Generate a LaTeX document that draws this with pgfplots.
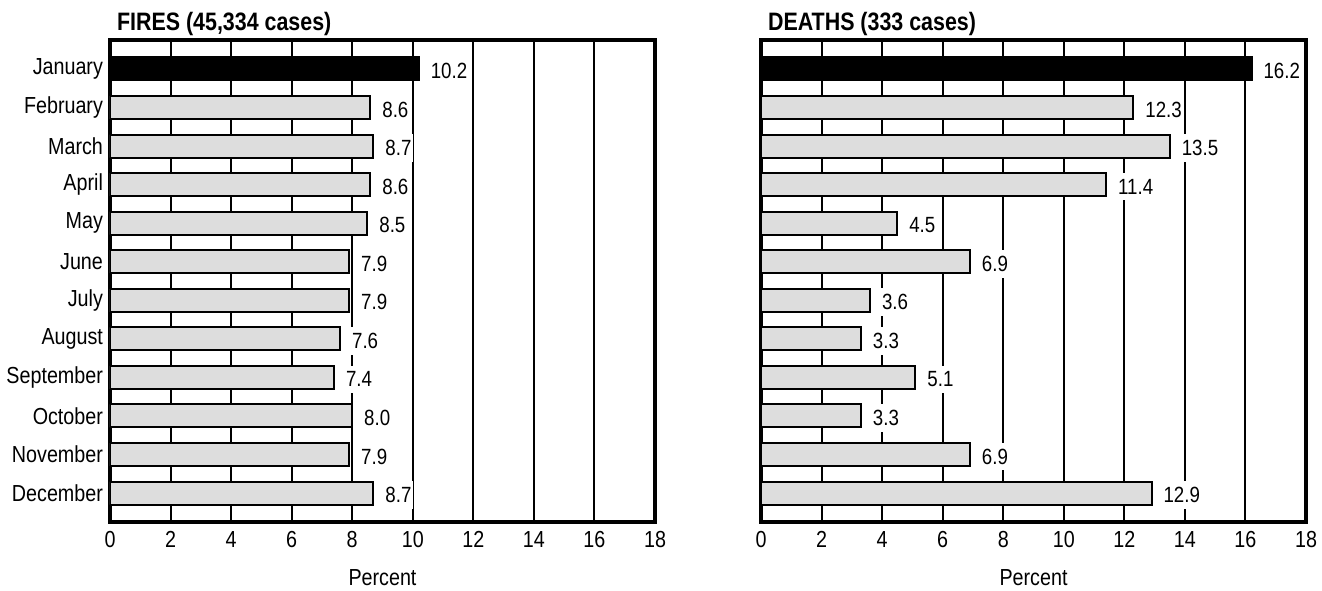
\documentclass[border=0pt]{standalone}
\usepackage{fontspec}
\setmainfont{Liberation Sans}[FakeStretch=0.85]
\usepackage{pgfplots}
\usepackage{pgfplotstable}
\pgfplotsset{compat=1.18}

\definecolor{barfill}{RGB}{221,221,221}

% month index (0 = January), percent of fires, percent of deaths
\pgfplotstableread{
idx fires deaths
0  10.2 16.2
1  8.6  12.3
2  8.7  13.5
3  8.6  11.4
4  8.5  4.5
5  7.9  6.9
6  7.9  3.6
7  7.6  3.3
8  7.4  5.1
9  8.0  3.3
10 7.9  6.9
11 8.7  12.9
}\monthdata

\pgfplotsset{
  monthbars/.style={
    width=272.5pt, height=241pt, scale only axis,
    xbar, bar width=11.5pt, bar shift=0pt,
    xmin=0, xmax=18, xtick={0,2,...,18},
    ymin=-0.75, ymax=11.75, y dir=reverse,
    ytick={0,...,11},
    xmajorgrids, grid style={black, line width=1pt},
    major tick length=0pt,
    axis line style={line width=1.6pt},
    /pgf/number format/assume math mode=true,
    tick label style={font=\fontsize{11.6}{13}\selectfont},
    x tick label style={yshift=-1pt},
    xlabel={Percent},
    x label style={at={(axis description cs:0.5,0)}, anchor=base,
      yshift=-31.5pt, font=\fontsize{11.6}{13}\selectfont},
    title style={at={(0,1)}, anchor=base west, yshift=-1pt,
      font=\bfseries\fontsize{12.6}{14}\selectfont},
    nodes near coords={\pgfmathprintnumber[fixed,fixed zerofill,precision=1]{\pgfplotspointmeta}},
    every node near coord/.append style={anchor=west, fill=white,
      inner xsep=1pt, inner ysep=3pt, xshift=4.5pt, yshift=-1pt,
      font=\fontsize{11}{12}\selectfont},
  },
  janbar/.style={draw=black, line width=1pt, fill=black},
  restbar/.style={draw=black, line width=1pt, fill=barfill},
}

\begin{document}
\begin{tikzpicture}
  \begin{axis}[monthbars,
    title={FIRES (45,334 cases)},
    yticklabels={January,February,March,April,May,June,July,August,September,October,November,December},
  ]
    \addplot[janbar, restrict y to domain=0:0] table[x=fires, y=idx] {\monthdata};
    \addplot[restbar, restrict y to domain=1:11] table[x=fires, y=idx] {\monthdata};
  \end{axis}

  \begin{axis}[monthbars, at={(325.5pt,0)},
    title={DEATHS (333 cases)},
    yticklabels={},
  ]
    \addplot[janbar, restrict y to domain=0:0] table[x=deaths, y=idx] {\monthdata};
    \addplot[restbar, restrict y to domain=1:11] table[x=deaths, y=idx] {\monthdata};
  \end{axis}

  \pgfresetboundingbox
  \useasboundingbox (-55pt,-34pt) rectangle (606pt,261pt);
\end{tikzpicture}
\end{document}
